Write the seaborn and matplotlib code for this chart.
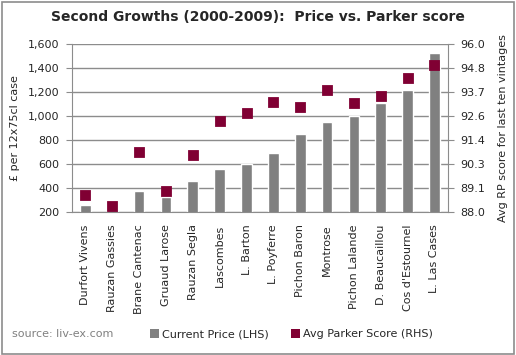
import numpy as np
import pandas as pd
import matplotlib
matplotlib.use("Agg")
import matplotlib.pyplot as plt
from matplotlib.patches import Patch, Rectangle
import seaborn as sns

# data
chateaux = ["Durfort Vivens", "Rauzan Gassies", "Brane Cantenac", "Gruaud Larose",
            "Rauzan Segla", "Lascombes", "L. Barton", "L. Poyferre", "Pichon Baron",
            "Montrose", "Pichon Lalande", "D. Beaucaillou", "Cos d'Estournel",
            "L. Las Cases"]
price = [260, 215, 375, 325, 458, 560, 600, 690, 850, 950, 1000, 1110, 1220, 1525]
parker = [88.8, 88.3, 90.85, 89.0, 90.7, 92.35, 92.7, 93.25, 93.0, 93.8,
          93.2, 93.5, 94.4, 95.0]
price_ticks = [200, 400, 600, 800, 1000, 1200, 1400, 1600]
score_ticks = [88.0, 89.14, 90.29, 91.43, 92.57, 93.71, 94.86, 96.0]
score_labels = ["88.0", "89.1", "90.3", "91.4", "92.6", "93.7", "94.8", "96.0"]

bar_color = "#808080"
mark_color = "#800033"
grid_color = "#8c8c8c"
fs = 8

df = pd.DataFrame({"chateau": chateaux, "price": price, "parker": parker})

sns.set_style("white")
plt.rcParams["font.family"] = ["DejaVu Sans"]

fig = plt.figure(figsize=(5.16, 3.55), dpi=100)
ax = fig.add_axes([0.1395, 0.403, 0.7285, 0.473])

sns.barplot(data=df, x="chateau", y="price", color=bar_color, saturation=1,
            width=0.4, ax=ax, zorder=2)
ax.set_ylim(200, 1600)
ax.set_yticks(price_ticks)
ax.set_yticklabels([f"{v:,}" for v in price_ticks], fontsize=fs)
ax.yaxis.grid(True, color=grid_color, lw=1)
ax.set_axisbelow(True)
ax.set_xlim(-0.5, len(chateaux) - 0.5)
ax.set_xlabel("")
ax.set_ylabel("£ per 12x75cl case", fontsize=fs, labelpad=6)
ax.set_xticks(range(len(chateaux)))
ax.set_xticklabels(chateaux, rotation=90, fontsize=fs)
ax.tick_params(axis="x", length=0, pad=9)
ax.set_xticks(np.arange(-0.5, len(chateaux), 1), minor=True)
ax.tick_params(axis="x", which="minor", length=4, color=grid_color, direction="out")
ax.tick_params(axis="y", length=4, color=grid_color, direction="out", pad=5)
for side in ["left", "bottom"]:
    ax.spines[side].set_color(grid_color)
ax.spines["top"].set_visible(False)
ax.spines["right"].set_visible(False)

ax2 = ax.twinx()
sns.pointplot(data=df, x="chateau", y="parker", color=mark_color, markers="s",
              linestyle="none", markersize=5.5, ax=ax2, zorder=3)
ax2.set_ylim(88, 96)
ax2.set_yticks(score_ticks)
ax2.set_yticklabels(score_labels, fontsize=fs)
ax2.set_ylabel("Avg RP score for last ten vintages", fontsize=fs, labelpad=9)
ax2.set_xlim(-0.5, len(chateaux) - 0.5)
ax2.tick_params(axis="y", length=4, color=grid_color, direction="out", pad=5)
ax2.spines["right"].set_color(grid_color)
for side in ["left", "top", "bottom"]:
    ax2.spines[side].set_visible(False)

fig.text(0.5, 0.952, "Second Growths (2000-2009):  Price vs. Parker score",
         ha="center", va="center", fontsize=10, fontweight="bold")
fig.text(0.023, 0.058, "source: liv-ex.com", fontsize=fs, color="#808080",
         va="center")

handles = [Patch(facecolor=bar_color, edgecolor="none", label="Current Price (LHS)"),
           Patch(facecolor=mark_color, edgecolor="none", label="Avg Parker Score (RHS)")]
fig.legend(handles=handles, loc="center", bbox_to_anchor=(0.565, 0.058), ncol=2,
           frameon=False, fontsize=fs, handlelength=0.8, handleheight=0.8,
           handletextpad=0.3, columnspacing=2.0)

fig.patches.append(Rectangle((0.003, 0.004), 0.993, 0.99, transform=fig.transFigure,
                             fill=False, edgecolor="#8c8c8c", lw=1.2))

fig.savefig("out.png", dpi=100)
